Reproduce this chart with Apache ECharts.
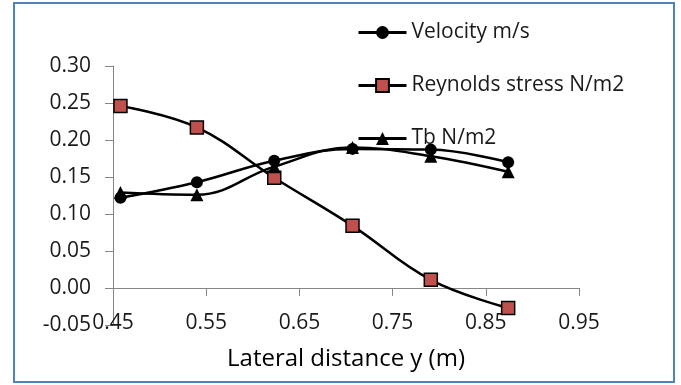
<!DOCTYPE html>
<html>
<head>
<meta charset="utf-8">
<script src="https://cdn.jsdelivr.net/npm/echarts@6/dist/echarts.min.js"></script>
<style>
  html, body { margin: 0; padding: 0; background: #fff; }
  #chart { width: 681px; height: 385px; }
</style>
</head>
<body>
<div id="chart"></div>
<script>
// lateral positions (m)
const lateral = [0.458, 0.540, 0.623, 0.707, 0.791, 0.874];
// series
const velocity = [0.122, 0.143, 0.172, 0.188, 0.187, 0.170];
const reynolds = [0.246, 0.217, 0.149, 0.084, 0.011, -0.027];
const tb = [0.129, 0.126, 0.164, 0.190, 0.178, 0.157];
const seriesNames = ['Velocity m/s', 'Reynolds stress N/m2', 'Tb N/m2'];

const font = 'Open Sans';
const textColor = '#1a1a1a';
const axisColor = '#868686';

function pairs(vals) {
  return lateral.map((x, i) => [x, vals[i]]);
}

const chart = echarts.init(document.getElementById('chart'));

chart.setOption({
  animation: false,
  grid: { left: 113, right: 102, top: 66, bottom: 60 },
  graphic: [{
    type: 'rect',
    shape: { x: 14, y: 3, width: 660, height: 379 },
    style: { fill: 'none', stroke: '#4f81bd', lineWidth: 2 },
    silent: true
  }],
  legend: {
    orient: 'vertical',
    left: 357,
    top: 22,
    padding: 0,
    itemWidth: 48,
    itemHeight: 16,
    itemGap: 32,
    lineStyle: { width: 3 },
    textStyle: { fontFamily: font, fontSize: 21, color: textColor },
    data: seriesNames
  },
  xAxis: [
    {
      // axis line that crosses at y = 0
      type: 'value',
      min: 0.45, max: 0.95, interval: 0.1,
      axisLine: { onZero: true, lineStyle: { color: axisColor, width: 1 } },
      axisTick: { show: true, inside: false, length: 8, lineStyle: { color: axisColor } },
      axisLabel: { show: false },
      splitLine: { show: false }
    },
    {
      // labels sit at the bottom of the plot
      type: 'value',
      position: 'bottom',
      min: 0.45, max: 0.95, interval: 0.1,
      axisLine: { show: false, onZero: false },
      axisTick: { show: false },
      splitLine: { show: false },
      axisLabel: {
        margin: -12,
        fontFamily: font, fontSize: 21, color: textColor,
        formatter: v => v.toFixed(2)
      },
      name: 'Lateral distance y (m)',
      nameLocation: 'middle',
      nameGap: 22,
      nameTextStyle: { fontFamily: font, fontSize: 24, color: '#000' }
    }
  ],
  yAxis: {
    type: 'value',
    min: -0.05, max: 0.30, interval: 0.05,
    axisLine: { show: true, lineStyle: { color: axisColor, width: 1 } },
    axisTick: { show: true, inside: false, length: 8, lineStyle: { color: axisColor } },
    splitLine: { show: false },
    axisLabel: {
      margin: 22,
      fontFamily: font, fontSize: 21, color: textColor,
      formatter: v => v.toFixed(2)
    }
  },
  series: [
    {
      name: seriesNames[0],
      type: 'line',
      xAxisIndex: 0,
      smooth: 0.4,
      data: pairs(velocity),
      symbol: 'circle',
      symbolSize: 12,
      lineStyle: { color: '#000', width: 2.5 },
      itemStyle: { color: '#000' }
    },
    {
      name: seriesNames[1],
      type: 'line',
      xAxisIndex: 0,
      smooth: 0.4,
      data: pairs(reynolds),
      symbol: 'rect',
      symbolSize: 13,
      lineStyle: { color: '#000', width: 2.5 },
      itemStyle: { color: '#c0504d', borderColor: '#000', borderWidth: 1.5 }
    },
    {
      name: seriesNames[2],
      type: 'line',
      xAxisIndex: 0,
      smooth: 0.4,
      data: pairs(tb),
      symbol: 'triangle',
      symbolSize: 13,
      lineStyle: { color: '#000', width: 2.5 },
      itemStyle: { color: '#000' }
    }
  ]
});
</script>
</body>
</html>
